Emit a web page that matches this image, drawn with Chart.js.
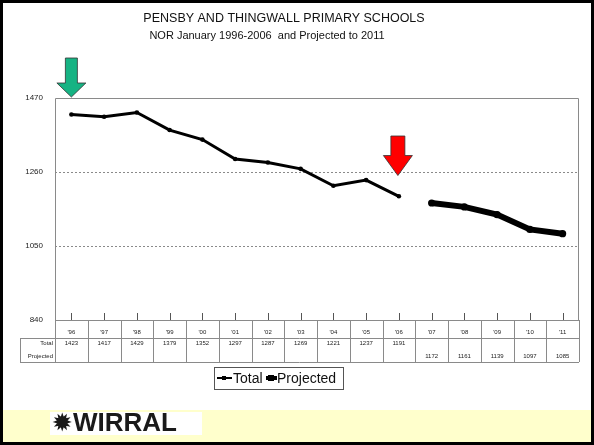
<!DOCTYPE html>
<html>
<head>
<meta charset="utf-8">
<script src="https://cdn.jsdelivr.net/npm/chart.js@4"></script>
<style>
  html, body { margin: 0; padding: 0; background: #fff; }
  #wrap { width: 594px; height: 445px; }
</style>
</head>
<body>
<div id="wrap"><canvas id="myChart" width="594" height="445"></canvas></div>
<script>
// data
const years = ["'96", "'97", "'98", "'99", "'00", "'01", "'02", "'03", "'04", "'05", "'06", "'07", "'08", "'09", "'10", "'11"];
const total = [1423, 1417, 1429, 1379, 1352, 1297, 1287, 1269, 1221, 1237, 1191, null, null, null, null, null];
const projected = [null, null, null, null, null, null, null, null, null, null, null, 1172, 1161, 1139, 1097, 1085];
const yTicks = [840, 1050, 1260, 1470];

const FONT = "'Liberation Sans', Arial, sans-serif";
const LINE_GRAY = '#8a8a8a';

function txt(ctx, s, x, y, size, align, bold) {
    ctx.font = (bold ? 'bold ' : '') + size + 'px ' + FONT;
    ctx.textAlign = align || 'center';
    ctx.textBaseline = 'middle';
    ctx.fillText(s, x, y);
}

function arrow(ctx, cx, tipY, shaftW, shaftTop, headW, headH, fill) {
    ctx.save();
    ctx.beginPath();
    ctx.moveTo(cx - shaftW / 2, shaftTop);
    ctx.lineTo(cx + shaftW / 2, shaftTop);
    ctx.lineTo(cx + shaftW / 2, tipY - headH);
    ctx.lineTo(cx + headW / 2, tipY - headH);
    ctx.lineTo(cx, tipY);
    ctx.lineTo(cx - headW / 2, tipY - headH);
    ctx.lineTo(cx - shaftW / 2, tipY - headH);
    ctx.closePath();
    ctx.fillStyle = fill;
    ctx.fill();
    ctx.strokeStyle = '#333';
    ctx.lineWidth = 0.8;
    ctx.stroke();
    ctx.restore();
}

const decor = {
    id: 'decor',
    beforeDraw(chart) {
        const ctx = chart.ctx;
        ctx.save();
        ctx.fillStyle = '#fff';
        ctx.fillRect(0, 0, 594, 445);
        // footer band
        ctx.fillStyle = '#ffffcc';
        ctx.fillRect(3, 410, 588, 32);
        ctx.fillStyle = '#fff';
        ctx.fillRect(50, 412, 152, 23);
        ctx.fillStyle = '#1a1a1a';
        txt(ctx, '\u2739', 62, 424, 22, 'center', true);
        txt(ctx, 'WIRRAL', 73, 424, 26, 'left', true);
        // outer frame
        ctx.strokeStyle = '#000';
        ctx.lineWidth = 3;
        ctx.strokeRect(1.5, 1.5, 591, 442);
        // titles
        ctx.fillStyle = '#111';
        txt(ctx, 'PENSBY AND THINGWALL PRIMARY SCHOOLS', 284, 19, 12.5);
        txt(ctx, 'NOR January 1996-2006  and Projected to 2011', 267, 36, 11);
        ctx.restore();
    },
    afterDraw(chart) {
        const ctx = chart.ctx;
        const a = chart.chartArea;
        const x = chart.scales.x;
        const y = chart.scales.y;
        const step = (a.right - a.left) / years.length;
        const rowTop = a.bottom, row1 = a.bottom + 18, row2 = a.bottom + 42;
        ctx.save();
        ctx.strokeStyle = LINE_GRAY;
        ctx.lineWidth = 1;
        ctx.beginPath();
        // plot frame
        ctx.moveTo(a.left + 0.5, rowTop);
        ctx.lineTo(a.left + 0.5, a.top + 0.5);
        ctx.lineTo(a.right - 0.5, a.top + 0.5);
        ctx.lineTo(a.right - 0.5, rowTop);
        // table
        ctx.moveTo(a.left, rowTop + 0.5); ctx.lineTo(a.right, rowTop + 0.5);
        ctx.moveTo(20, row1 + 0.5); ctx.lineTo(a.right, row1 + 0.5);
        ctx.moveTo(20, row2 + 0.5); ctx.lineTo(a.right, row2 + 0.5);
        ctx.moveTo(20.5, row1); ctx.lineTo(20.5, row2);
        for (let i = 0; i <= years.length; i++) {
            const px = Math.round(a.left + i * step) + 0.5;
            ctx.moveTo(px, rowTop); ctx.lineTo(px, row2);
        }
        ctx.stroke();
        // tick marks at category centres
        ctx.strokeStyle = '#555';
        ctx.beginPath();
        years.forEach((lab, i) => {
            const px = Math.round(x.getPixelForValue(i)) + 0.5;
            ctx.moveTo(px, rowTop - 7); ctx.lineTo(px, rowTop);
        });
        ctx.stroke();
        // table text
        ctx.fillStyle = '#222';
        years.forEach((lab, i) => {
            const px = x.getPixelForValue(i);
            txt(ctx, lab, px, rowTop + 12, 6);
            if (total[i] != null) txt(ctx, String(total[i]), px, row1 + 5, 6);
            if (projected[i] != null) txt(ctx, String(projected[i]), px, row1 + 18, 6);
        });
        txt(ctx, 'Total', a.left - 2, row1 + 5, 6, 'right');
        txt(ctx, 'Projected', a.left - 2, row1 + 18, 6, 'right');

        // legend
        const lx = 214, ly = 367, lw = 129, lh = 22;
        ctx.fillStyle = '#fff';
        ctx.fillRect(lx, ly, lw, lh);
        ctx.strokeStyle = '#555';
        ctx.strokeRect(lx + 0.5, ly + 0.5, lw, lh);
        const ds = chart.data.datasets;
        const cy = ly + lh / 2;
        ctx.strokeStyle = '#000';
        ctx.fillStyle = '#000';
        ctx.lineWidth = ds[0].borderWidth - 1;
        ctx.beginPath(); ctx.moveTo(217, cy); ctx.lineTo(232, cy); ctx.stroke();
        ctx.fillRect(222, cy - 2, 4, 4);
        ctx.lineWidth = ds[1].borderWidth - 2;
        ctx.beginPath(); ctx.moveTo(266, cy); ctx.lineTo(277, cy); ctx.stroke();
        ctx.fillRect(268, cy - 3, 6, 6);
        ctx.fillStyle = '#111';
        txt(ctx, ds[0].label, 233, cy + 1, 14, 'left');
        txt(ctx, ds[1].label, 277, cy + 1, 14, 'left');

        // arrows
        arrow(ctx, x.getPixelForValue(0), a.top - 1, 12, 58, 29, 14, '#16b383');
        arrow(ctx, x.getPixelForValue(10) - 1, y.getPixelForValue(1250), 14, 136, 29, 20, '#ff0000');
        ctx.restore();
    }
};

new Chart(document.getElementById('myChart').getContext('2d'), {
    type: 'line',
    data: {
        labels: years,
        datasets: [{
            label: 'Total',
            data: total,
            borderColor: '#000',
            backgroundColor: '#000',
            borderWidth: 3,
            pointRadius: 2.3,
            pointBorderWidth: 0,
            tension: 0
        }, {
            label: 'Projected',
            data: projected,
            borderColor: '#000',
            backgroundColor: '#000',
            borderWidth: 6,
            pointRadius: 3.6,
            pointBorderWidth: 0,
            tension: 0
        }]
    },
    options: {
        responsive: false,
        animation: false,
        layout: { padding: { left: 0, right: 15, top: 98, bottom: 125 } },
        plugins: { legend: { display: false }, title: { display: false }, tooltip: { enabled: false } },
        scales: {
            x: { display: false, offset: true },
            y: {
                min: yTicks[0],
                max: yTicks[yTicks.length - 1],
                afterFit: (s) => { s.width = 55; },
                afterBuildTicks: (s) => { s.ticks = yTicks.map(v => ({ value: v })); },
                border: { display: false, dash: [2, 2] },
                grid: {
                    drawTicks: false,
                    color: (c) => (c.tick && (c.tick.value === 1260 || c.tick.value === 1050)) ? '#8a8a8a' : 'rgba(0,0,0,0)'
                },
                ticks: {
                    padding: 12,
                    color: '#222',
                    font: { family: FONT, size: 8 },
                    callback: (v) => String(v)
                }
            }
        }
    },
    plugins: [decor]
});
</script>
</body>
</html>
